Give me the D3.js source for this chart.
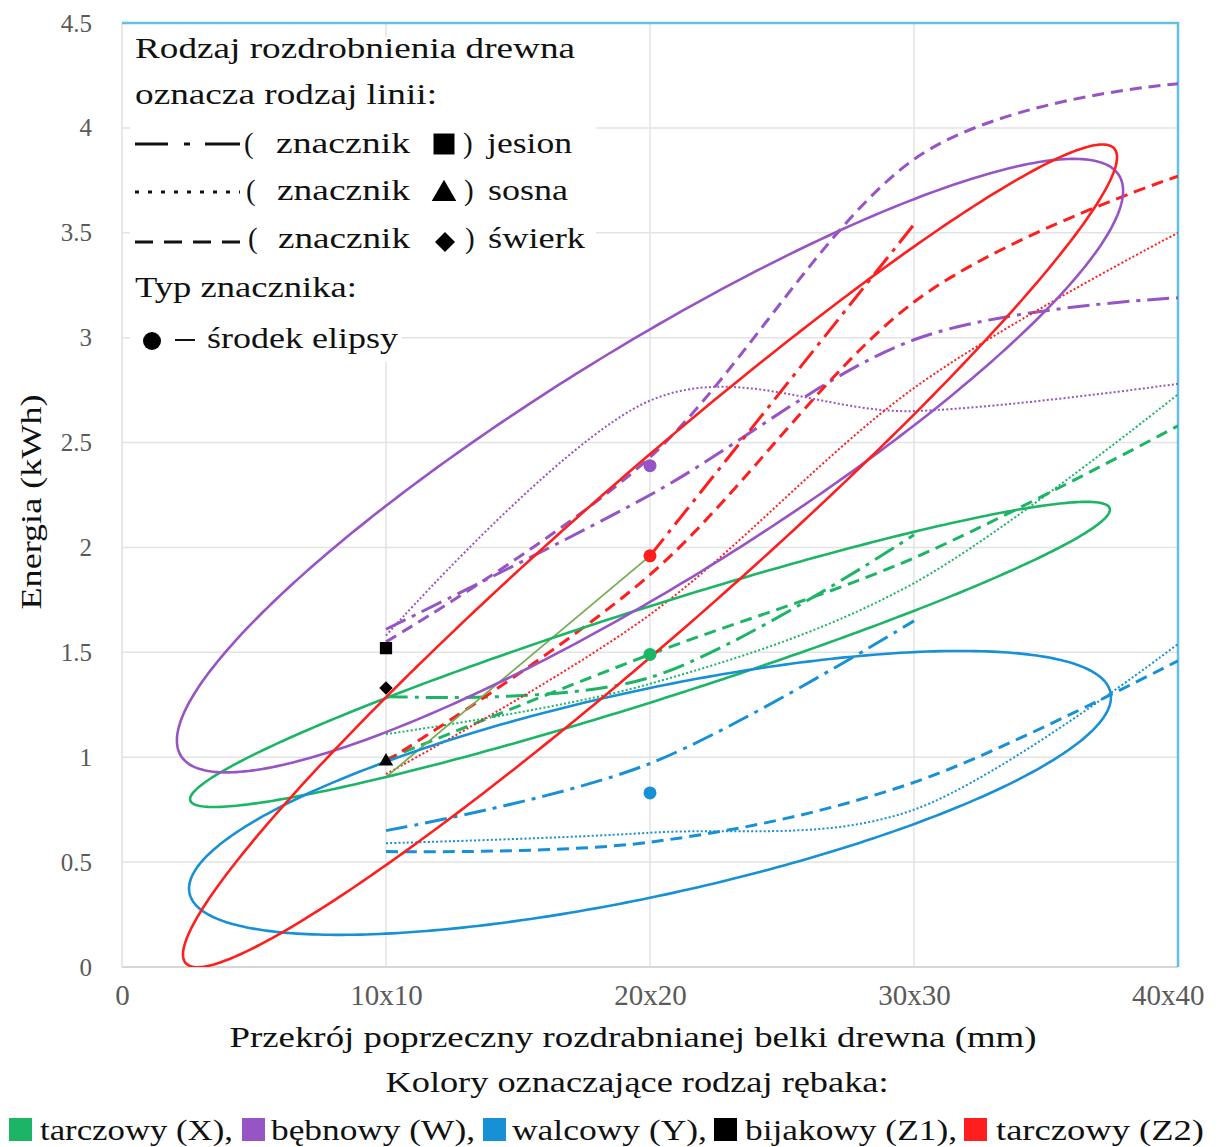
<!DOCTYPE html>
<html>
<head>
<meta charset="utf-8">
<script src="https://cdn.jsdelivr.net/npm/d3@7"></script>
<style>
  body { margin: 0; background: #ffffff; }
  svg text { font-family: "Liberation Serif", "Times New Roman", serif; }
</style>
</head>
<body>
<svg id="chart" width="1219" height="1147"></svg>
<script>
// ---- axis ticks -------------------------------------------------------
const sizes = [10, 20, 30, 40];                       // beam cross-section (mm)
const xTicks = [0, 10, 20, 30, 40];
const xTickLabels = ["0", "10x10", "20x20", "30x30", "40x40"];
const yTicks = [0, 0.5, 1, 1.5, 2, 2.5, 3, 3.5, 4, 4.5];
const yTickLabels = ["0", "0.5", "1", "1.5", "2", "2.5", "3", "3.5", "4", "4.5"];

// ---- chippers ---------------------------------------------------------
const chipperNames = ["tarczowy (X),", "bębnowy (W),", "walcowy (Y),", "bijakowy (Z1),", "tarczowy (Z2)"];
const chipperColors = ["#1bb565", "#9654c4", "#1790d5", "#000000", "#ff1e1e"];

// ---- energy (kWh) per species: jesion, sosna, świerk ------------------
const xJesion = [1.29, 1.38, 2.06, null];
const xSosna  = [1.11, 1.35, 1.83, 2.73];
const xSwierk = [0.99, 1.49, 1.95, 2.58];

const wJesion = [1.61, 2.25, 2.99, 3.19];
const wSosna  = [1.58, 2.70, 2.65, 2.78];
const wSwierk = [1.55, 2.43, 3.85, 4.21];

const yJesion = [0.65, 0.97, 1.65, null];
const ySosna  = [0.59, 0.64, 0.75, 1.54];
const ySwierk = [0.55, 0.595, 0.88, 1.46];

const z2Jesion = [null, 1.96, 3.54, null];
const z2Sosna  = [0.92, 1.68, 2.76, 3.50];
const z2Swierk = [0.98, 1.87, 3.17, 3.77];
const z2Link   = [0.905, 1.96, null, null];          // thin link into the Z2 centre

const z1Values = [1.52, 0.98, 1.33];                  // bijakowy at 10x10: jesion, sosna, świerk

// ---- ellipses: centre, reach to the rightmost point, vertical half-chord
const ellipseCenters    = [[20, 1.49], [20, 2.39], [20, 0.83], null, [20, 1.96]];
const ellipseReach      = [[17.42, 0.69], [17.92, 1.31], [17.46, 0.456], null, [17.69, 1.90]];
const ellipseHalfHeight = [0.23, 0.65, 0.50, null, 0.485];

// ---- layout -------------------------------------------------------------
const svg = d3.select("#chart");
const X0 = 122, X1 = 1178, Y0 = 967, Y1 = 23;
const x = d3.scaleLinear().domain([0, 40]).range([X0, X1]);
const y = d3.scaleLinear().domain([0, 4.5]).range([Y0, Y1]);

function fitWidth(sel, w) {
  sel.each(function () {
    const cur = this.getComputedTextLength();
    if (Math.abs(cur - w) > 1) {
      d3.select(this).attr("textLength", w).attr("lengthAdjust", "spacingAndGlyphs");
    }
  });
  return sel;
}

svg.append("defs").append("clipPath").attr("id", "plotClip")
  .append("rect").attr("x", X0).attr("y", Y1).attr("width", X1 - X0).attr("height", Y0 - Y1);

// gridlines
const grid = svg.append("g").attr("stroke", "#e3e3e3").attr("stroke-width", 1.5);
grid.selectAll("line.h").data(yTicks.filter(d => d > 0 && d < 4.5)).join("line")
  .attr("x1", X0).attr("x2", X1).attr("y1", d => y(d)).attr("y2", d => y(d));
grid.selectAll("line.v").data(xTicks.filter(d => d > 0 && d < 40)).join("line")
  .attr("x1", d => x(d)).attr("x2", d => x(d)).attr("y1", Y1).attr("y2", Y0);

// frame
svg.append("line").attr("x1", X0).attr("x2", X1).attr("y1", Y0).attr("y2", Y0)
  .attr("stroke", "#d6d6d6").attr("stroke-width", 2);
svg.append("line").attr("x1", X0).attr("x2", X0).attr("y1", Y1).attr("y2", Y0)
  .attr("stroke", "#e0e0e0").attr("stroke-width", 1.5);
svg.append("path").attr("d", `M${X0},${Y1}H${X1}V${Y0}`)
  .attr("fill", "none").attr("stroke", "#62c0e6").attr("stroke-width", 2.5);

// axes
const xAxis = svg.append("g").attr("transform", `translate(0,${Y0})`)
  .call(d3.axisBottom(x).tickValues(xTicks).tickFormat((d, i) => xTickLabels[i]).tickSize(0).tickPadding(17));
xAxis.select(".domain").remove();
xAxis.selectAll("text").attr("font-size", 29).attr("fill", "#5a5a5a")
  .style("font-family", '"Liberation Serif", serif');
xAxis.selectAll(".tick").filter(d => d === 40).select("text")
  .attr("text-anchor", "end").attr("dx", 26);

const yAxis = svg.append("g").attr("transform", `translate(${X0},0)`)
  .call(d3.axisLeft(y).tickValues(yTicks).tickFormat((d, i) => yTickLabels[i]).tickSize(0).tickPadding(30));
yAxis.select(".domain").remove();
yAxis.selectAll("text").attr("font-size", 25).attr("fill", "#5a5a5a")
  .style("font-family", '"Liberation Serif", serif');

// plotted content
const plot = svg.append("g").attr("clip-path", "url(#plotClip)");

const speciesDash = ["22,7,4,7", "2,2.2", "12,7"];
const speciesWidth = [3, 2, 3];
const seriesByChipper = [
  [xJesion, xSosna, xSwierk],
  [wJesion, wSosna, wSwierk],
  [yJesion, ySosna, ySwierk],
  null,
  [z2Jesion, z2Sosna, z2Swierk]
];

const curveLine = d3.line()
  .defined(d => d[1] != null)
  .x(d => x(d[0])).y(d => y(d[1]))
  .curve(d3.curveCardinal.tension(0));

seriesByChipper.forEach((group, ci) => {
  if (!group) return;
  group.forEach((vals, si) => {
    const pts = sizes.map((s, i) => [s, vals[i]]);
    plot.append("path")
      .attr("d", curveLine(pts))
      .attr("fill", "none")
      .attr("stroke", chipperColors[ci])
      .attr("stroke-width", speciesWidth[si])
      .attr("stroke-dasharray", speciesDash[si]);
  });
});

// link segment into the Z2 centre
plot.append("path")
  .attr("d", d3.line().defined(d => d[1] != null).x(d => x(d[0])).y(d => y(d[1]))(sizes.map((s, i) => [s, z2Link[i]])))
  .attr("fill", "none").attr("stroke", "#74ad52").attr("stroke-width", 1.8);

// ellipses
const angles = d3.range(0, 360, 1).map(a => a * Math.PI / 180);
const closedLine = d3.line().x(d => x(d[0])).y(d => y(d[1])).curve(d3.curveLinearClosed);
ellipseCenters.forEach((c, i) => {
  if (!c) return;
  const r = ellipseReach[i], h = ellipseHalfHeight[i];
  const pts = angles.map(t => [c[0] + r[0] * Math.cos(t), c[1] + r[1] * Math.cos(t) + h * Math.sin(t)]);
  plot.append("path").attr("d", closedLine(pts))
    .attr("fill", "none").attr("stroke", chipperColors[i]).attr("stroke-width", 2.6);
});

// ellipse centres
ellipseCenters.forEach((c, i) => {
  if (!c) return;
  svg.append("circle").attr("cx", x(c[0])).attr("cy", y(c[1])).attr("r", 6.5)
    .attr("fill", chipperColors[i]);
});

// bijakowy markers
const z1Symbols = [d3.symbolSquare, d3.symbolTriangle, d3.symbolSquare];
const z1Sizes = [150, 90, 90];
z1Values.forEach((v, i) => {
  svg.append("path")
    .attr("d", d3.symbol().type(z1Symbols[i]).size(z1Sizes[i])())
    .attr("transform", `translate(${x(10)},${y(v)}) rotate(${i === 2 ? 45 : 0})`)
    .attr("fill", "#000");
});

// ---- line-style legend ----------------------------------------------------
const lg = svg.append("g");
lg.append("rect").attr("x", 130).attr("y", 37).attr("width", 466).attr("height", 275).attr("fill", "#fff");
lg.append("rect").attr("x", 130).attr("y", 312).attr("width", 272).attr("height", 50).attr("fill", "#fff");

function legendText(str, xx, yy, w, size) {
  const t = lg.append("text").attr("x", xx).attr("y", yy).attr("font-size", size || 29)
    .attr("fill", "#111").text(str);
  if (w) fitWidth(t, w);
  return t;
}
legendText("Rodzaj rozdrobnienia drewna", 135, 58, 440);
legendText("oznacza rodzaj linii:", 135, 104, 302);

const rowY = [144, 192, 242];
const rowBase = [153, 200, 248];
const speciesNames = ["jesion", "sosna", "świerk"];
const speciesNameW = [85, 80, 97];
const sampleDash = ["33,16,6,15,40", "4,9", "18,11"];
rowY.forEach((ry, i) => {
  lg.append("line").attr("x1", 135).attr("x2", 240).attr("y1", ry).attr("y2", ry)
    .attr("stroke", "#111").attr("stroke-width", 3).attr("stroke-dasharray", sampleDash[i]);
  legendText("(", 244 + i * 2, rowBase[i], null);
  legendText("znacznik", 276 + i, rowBase[i], 134 - i);
  legendText(")", 463 + i, rowBase[i], null);
  legendText(speciesNames[i], 487 + (i > 0 ? 1 : 0), rowBase[i], speciesNameW[i]);
});
lg.append("path").attr("d", d3.symbol().type(d3.symbolSquare).size(440)())
  .attr("transform", `translate(444,${rowY[0]})`).attr("fill", "#000");
lg.append("path").attr("d", d3.symbol().type(d3.symbolTriangle).size(260)())
  .attr("transform", `translate(444,${rowY[1] + 2})`).attr("fill", "#000");
lg.append("path").attr("d", d3.symbol().type(d3.symbolSquare).size(200)())
  .attr("transform", `translate(445,${rowY[2]}) rotate(45)`).attr("fill", "#000");

legendText("Typ znacznika:", 135, 297, 222);
lg.append("circle").attr("cx", 152).attr("cy", 341).attr("r", 9).attr("fill", "#000");
lg.append("line").attr("x1", 175).attr("x2", 195).attr("y1", 340).attr("y2", 340)
  .attr("stroke", "#111").attr("stroke-width", 2);
legendText("środek elipsy", 207, 348, 191);

// ---- axis titles ------------------------------------------------------
fitWidth(svg.append("text").attr("transform", "translate(41,502) rotate(-90)")
  .attr("text-anchor", "middle").attr("font-size", 30).attr("fill", "#111")
  .text("Energia (kWh)"), 215);

fitWidth(svg.append("text").attr("x", 633).attr("y", 1047)
  .attr("text-anchor", "middle").attr("font-size", 30).attr("fill", "#111")
  .text("Przekrój poprzeczny rozdrabnianej belki drewna (mm)"), 807);

fitWidth(svg.append("text").attr("x", 637).attr("y", 1092)
  .attr("text-anchor", "middle").attr("font-size", 30).attr("fill", "#111")
  .text("Kolory oznaczające rodzaj rębaka:"), 503);

// ---- chipper colour legend -------------------------------------------
const keySquareX = [9, 242, 483, 714, 964];
const keyTextX = [40, 271, 512, 745, 996];
const keyTextW = [193, 204, 195, 212, 208];
chipperNames.forEach((name, i) => {
  svg.append("rect").attr("x", keySquareX[i]).attr("y", 1118).attr("width", 23).attr("height", 23)
    .attr("fill", chipperColors[i]);
  fitWidth(svg.append("text").attr("x", keyTextX[i]).attr("y", 1140)
    .attr("font-size", 30).attr("fill", "#111").text(name), keyTextW[i]);
});
</script>
</body>
</html>
